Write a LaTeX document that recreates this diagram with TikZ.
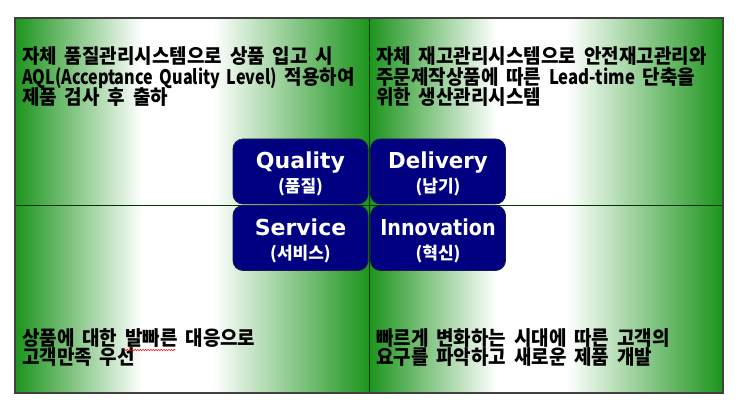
\documentclass[tikz,border=0pt]{standalone}
\usepackage{fontspec}
\usetikzlibrary{decorations.pathmorphing}
\newfontfamily\krb[FakeStretch=0.95,WordSpace=1.8]{Noto Sans CJK KR}
\newfontfamily\kr{Noto Sans CJK KR}
\newfontfamily\dv{DejaVu Sans}
\definecolor{gE}{RGB}{28,148,28}
\definecolor{navyF}{RGB}{0,0,128}
\definecolor{navyD}{RGB}{25,25,75}
\pgfdeclarehorizontalshading{gw}{100bp}{color(0bp)=(gE); color(25bp)=(gE); color(43bp)=(white); color(53bp)=(white); color(75bp)=(gE); color(100bp)=(gE)}
\newcommand{\latn}[2][0.88]{\scalebox{#1}[1]{#2}}
\tikzset{
  quad/.style={shading=gw},
  divline/.style={draw=black!80!green, line width=0.8pt},
  frame/.style={draw=black!75, line width=1.4pt},
  qbox/.style={draw=navyD, line width=0.8pt, fill=navyF, rounded corners=10pt, minimum width=135pt, minimum height=65pt, inner sep=0pt},
  bodytxt/.style={anchor=base west, inner sep=0pt, font=\krb\bfseries\fontsize{20}{22}\selectfont, text=black},
  boxtitle/.style={anchor=base, inner sep=0pt, font=\dv\bfseries\fontsize{22}{24}\selectfont, text=white},
  boxsub/.style={anchor=base, inner sep=0pt, font=\kr\bfseries\fontsize{17}{19}\selectfont, text=white},
  squiggle/.style={draw=red, line width=0.5pt, decorate, decoration={snake, amplitude=0.7pt, segment length=2.6pt}}
}
\begin{document}
\begin{tikzpicture}[x=1pt,y=-1pt]
\useasboundingbox (0,0) rectangle (740,406);
% quadrants
\shade[quad] (15,18) rectangle (369,205);
\shade[quad] (369,18) rectangle (723,205);
\shade[quad] (15,205) rectangle (369,393);
\shade[quad] (369,205) rectangle (723,393);
\coordinate (vt) at (369,18);
\coordinate (vb) at (369,393);
\coordinate (hl) at (15,205);
\coordinate (hr) at (723,205);
\draw[divline] (vt) -- (vb);
\draw[divline] (hl) -- (hr);
\draw[frame] (15,18) rectangle (723,393);
% texts
\node[bodytxt] (tl1) at (22,64) {자체 품질관리시스템으로 상품 입고 시};
\node[bodytxt] (tl2) at (22,84.5) {\latn[0.85]{AQL(Acceptance Quality Level)} 적용하여};
\node[bodytxt] (tl3) at (22,104.5) {제품 검사 후 출하};
\node[bodytxt] (tr1) at (376,64) {자체 재고관리시스템으로 안전재고관리와};
\node[bodytxt] (tr2) at (376,84.5) {주문제작상품에 따른 \latn{Lead-time} 단축을};
\node[bodytxt] (tr3) at (376,104.5) {위한 생산관리시스템};
\node[bodytxt] (bl1) at (22,346) {상품에 대한 발빠른 대응으로};
\node[bodytxt] (bl2) at (22,365) {고객만족 우선};
\node[bodytxt] (br1) at (376,346) {빠르게 변화하는 시대에 따른 고객의};
\node[bodytxt] (br2) at (376,365) {요구를 파악하고 새로운 제품 개발};
\draw[squiggle] (124,350) -- (176,350);
% boxes
\node[qbox] (quality) at (300.5,171.5) {};
\node[qbox] (delivery) at (438,171.5) {};
\node[qbox] (service) at (300.5,238) {};
\node[qbox] (innovation) at (438,238) {};
\node[boxtitle] (qualityT) at (300.5,169) {Quality};
\node[boxsub] (qualityS) at (300.5,193) {(품질)};
\node[boxtitle,xscale=0.97] (deliveryT) at (438,169) {Delivery};
\node[boxsub] (deliveryS) at (438,193) {(납기)};
\node[boxtitle] (serviceT) at (300.5,236) {Service};
\node[boxsub] (serviceS) at (300.5,260) {(서비스)};
\node[boxtitle,xscale=0.87] (innovationT) at (438,236) {Innovation};
\node[boxsub] (innovationS) at (438,260) {(혁신)};
\end{tikzpicture}
\end{document}
